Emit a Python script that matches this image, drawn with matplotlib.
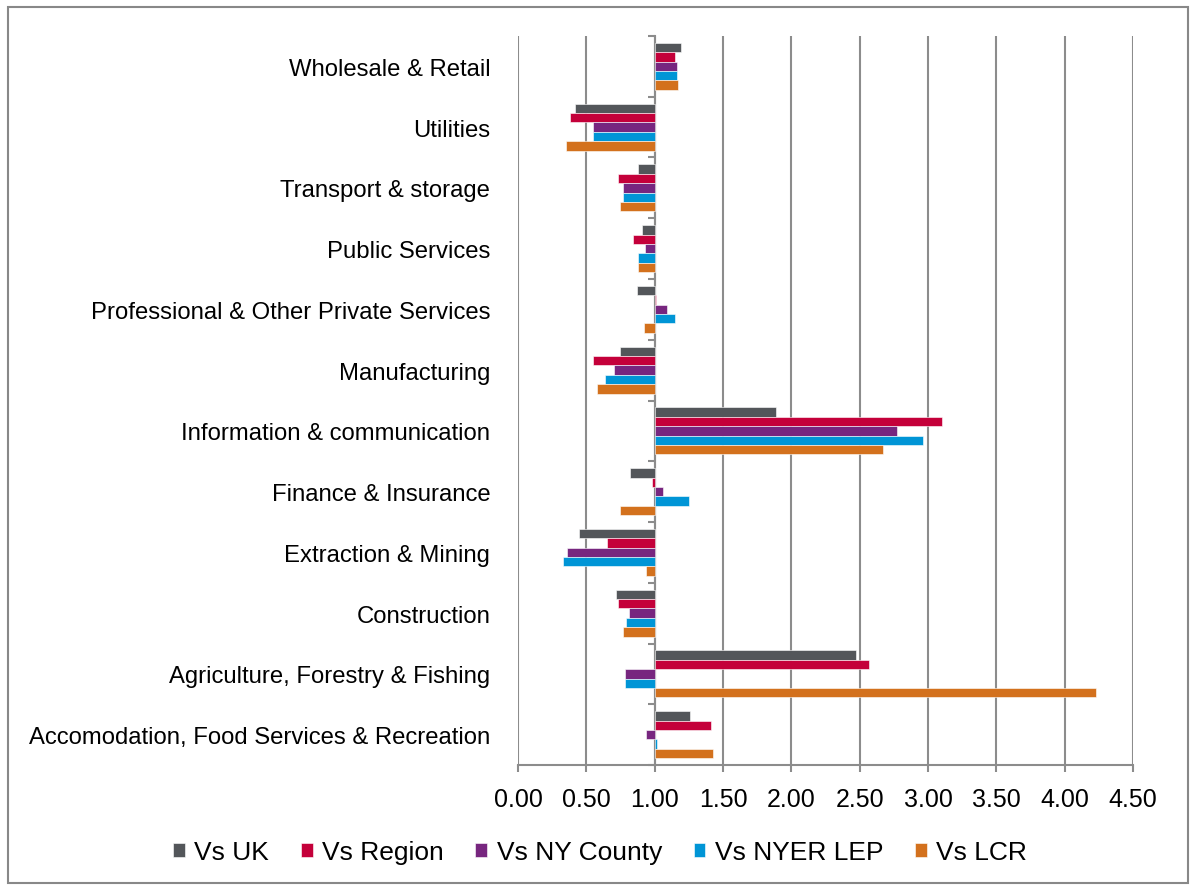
import numpy as np
import matplotlib
matplotlib.use("Agg")
from matplotlib import pyplot as plt
from matplotlib.patches import Rectangle

plt.rcParams['font.family'] = ['Liberation Sans', 'DejaVu Sans']

# bottom to top, as drawn
sectors = ['Accomodation, Food Services & Recreation', 'Agriculture, Forestry & Fishing',
           'Construction', 'Extraction & Mining', 'Finance & Insurance',
           'Information & communication', 'Manufacturing',
           'Professional & Other Private Services', 'Public Services',
           'Transport & storage', 'Utilities', 'Wholesale & Retail']

vs_uk = [1.26, 2.47, 0.72, 0.45, 0.82, 1.89, 0.75, 0.87, 0.91, 0.88, 0.42, 1.19]
vs_region = [1.41, 2.57, 0.73, 0.65, 0.98, 3.10, 0.55, 1.01, 0.84, 0.73, 0.38, 1.15]
vs_county = [0.94, 0.78, 0.81, 0.36, 1.06, 2.77, 0.70, 1.09, 0.93, 0.77, 0.55, 1.16]
vs_lep = [1.02, 0.78, 0.79, 0.33, 1.25, 2.96, 0.64, 1.15, 0.88, 0.77, 0.55, 1.16]
vs_lcr = [1.43, 4.23, 0.77, 0.94, 0.75, 2.67, 0.58, 0.92, 0.88, 0.75, 0.35, 1.17]

series = [('Vs UK', vs_uk, '#53565A'),
          ('Vs Region', vs_region, '#C4003A'),
          ('Vs NY County', vs_county, '#77267F'),
          ('Vs NYER LEP', vs_lep, '#0095D6'),
          ('Vs LCR', vs_lcr, '#D3711D')]

base = 1.0
grey = '#8C8C8C'

fig = plt.figure(figsize=(11.93, 8.87), dpi=100)
ax = fig.add_axes([0.4342, 0.1364, 0.5155, 0.8219])

y = np.arange(len(sectors))
h = 0.154
for i, (name, vals, col) in enumerate(series):
    vals = np.array(vals)
    ax.barh(y + (2 - i) * h, vals - base, left=base, height=h, color=col,
            edgecolor='white', linewidth=0.4, label=name, zorder=3)

ax.set_xlim(0, 4.5)
ax.set_ylim(-0.5, len(sectors) - 0.5)
ax.set_xticks(np.arange(0, 4.51, 0.5))
ax.set_xticklabels(['%.2f' % v for v in np.arange(0, 4.51, 0.5)], fontsize=18)
ax.set_yticks(y)
ax.set_yticklabels(sectors, fontsize=17.2)
ax.tick_params(axis='y', length=0, pad=20)
ax.tick_params(axis='x', direction='out', length=5, width=1.5, color=grey, pad=11)
ax.xaxis.grid(True, color=grey, linewidth=1.5)
ax.set_axisbelow(True)
for s in ['top', 'right', 'left']:
    ax.spines[s].set_visible(False)
ax.spines['bottom'].set_color(grey)
ax.spines['bottom'].set_linewidth(1.5)

# category axis crosses at 1.0
sec = ax.secondary_yaxis(base / 4.5)
sec.set_yticks(np.arange(-0.5, len(sectors), 1.0))
sec.set_yticklabels([])
sec.tick_params(direction='out', length=5, width=1.5, color=grey)
sec.spines['left'].set_color(grey)
sec.spines['left'].set_linewidth(1.5)

fig.legend(loc='center', bbox_to_anchor=(0.503, 0.038), ncol=5, frameon=False,
           fontsize=19, handlelength=0.45, handleheight=0.45, handletextpad=0.35,
           columnspacing=1.2)

fig.patches.append(Rectangle((8 / 1193, 3 / 887), 1180 / 1193, 876 / 887,
                             transform=fig.transFigure, fill=False,
                             edgecolor='#888888', linewidth=1.5))

fig.savefig('out.png', dpi=100)
